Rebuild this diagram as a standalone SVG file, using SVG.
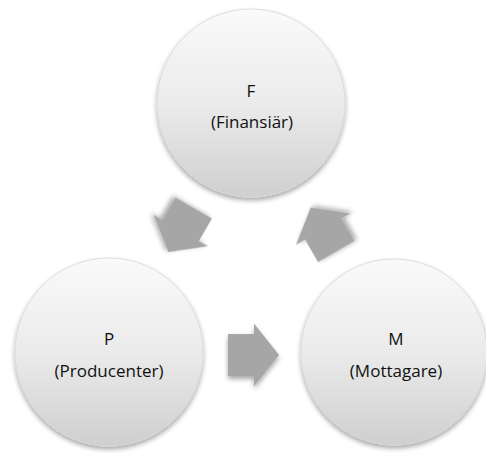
<svg xmlns="http://www.w3.org/2000/svg" width="486" height="453" viewBox="0 0 486 453">
<defs>
<linearGradient id="cg" x1="0" y1="0" x2="0" y2="1">
<stop offset="0" stop-color="#fafafa"/>
<stop offset="0.5" stop-color="#ebebeb"/>
<stop offset="1" stop-color="#cfcfcf"/>
</linearGradient>
<filter id="sh" x="-20%" y="-20%" width="140%" height="140%">
<feGaussianBlur in="SourceAlpha" stdDeviation="2.5"/>
<feOffset dx="0" dy="3" result="b"/>
<feComponentTransfer><feFuncA type="linear" slope="0.35"/></feComponentTransfer>
<feMerge><feMergeNode/><feMergeNode in="SourceGraphic"/></feMerge>
</filter>
<polygon id="arr" points="-25.5,-21 0.5,-21 0.5,-31.5 25.5,0 0.5,31.5 0.5,21 -25.5,21"/>
</defs>
<style>
.node circle{fill:url(#cg);stroke:#d6d6d6;stroke-width:0.8;filter:url(#sh)}
.node text{font-family:"Open Sans","Liberation Sans",sans-serif;font-size:17px;fill:#111;text-anchor:middle}
.conn use{fill:#a6a6a6;filter:url(#sh)}
</style>
<rect width="486" height="453" fill="#ffffff"/>
<g id="node-F" class="node">
<circle cx="251" cy="103" r="94"/>
<text x="251" y="97">F</text>
<text x="252" y="128">(Finansiär)</text>
</g>
<g id="node-P" class="node">
<circle cx="109" cy="352" r="94"/>
<text x="109" y="345">P</text>
<text x="109" y="377">(Producenter)</text>
</g>
<g id="node-M" class="node">
<circle cx="394" cy="352" r="93"/>
<text x="396" y="345">M</text>
<text x="396" y="377">(Mottagare)</text>
</g>
<g id="connectors" class="conn">
<use href="#arr" transform="translate(181,230) rotate(120)"/>
<use href="#arr" transform="translate(253.5,355)"/>
<use href="#arr" transform="translate(323.5,229.5) rotate(-120)"/>
</g>
</svg>
